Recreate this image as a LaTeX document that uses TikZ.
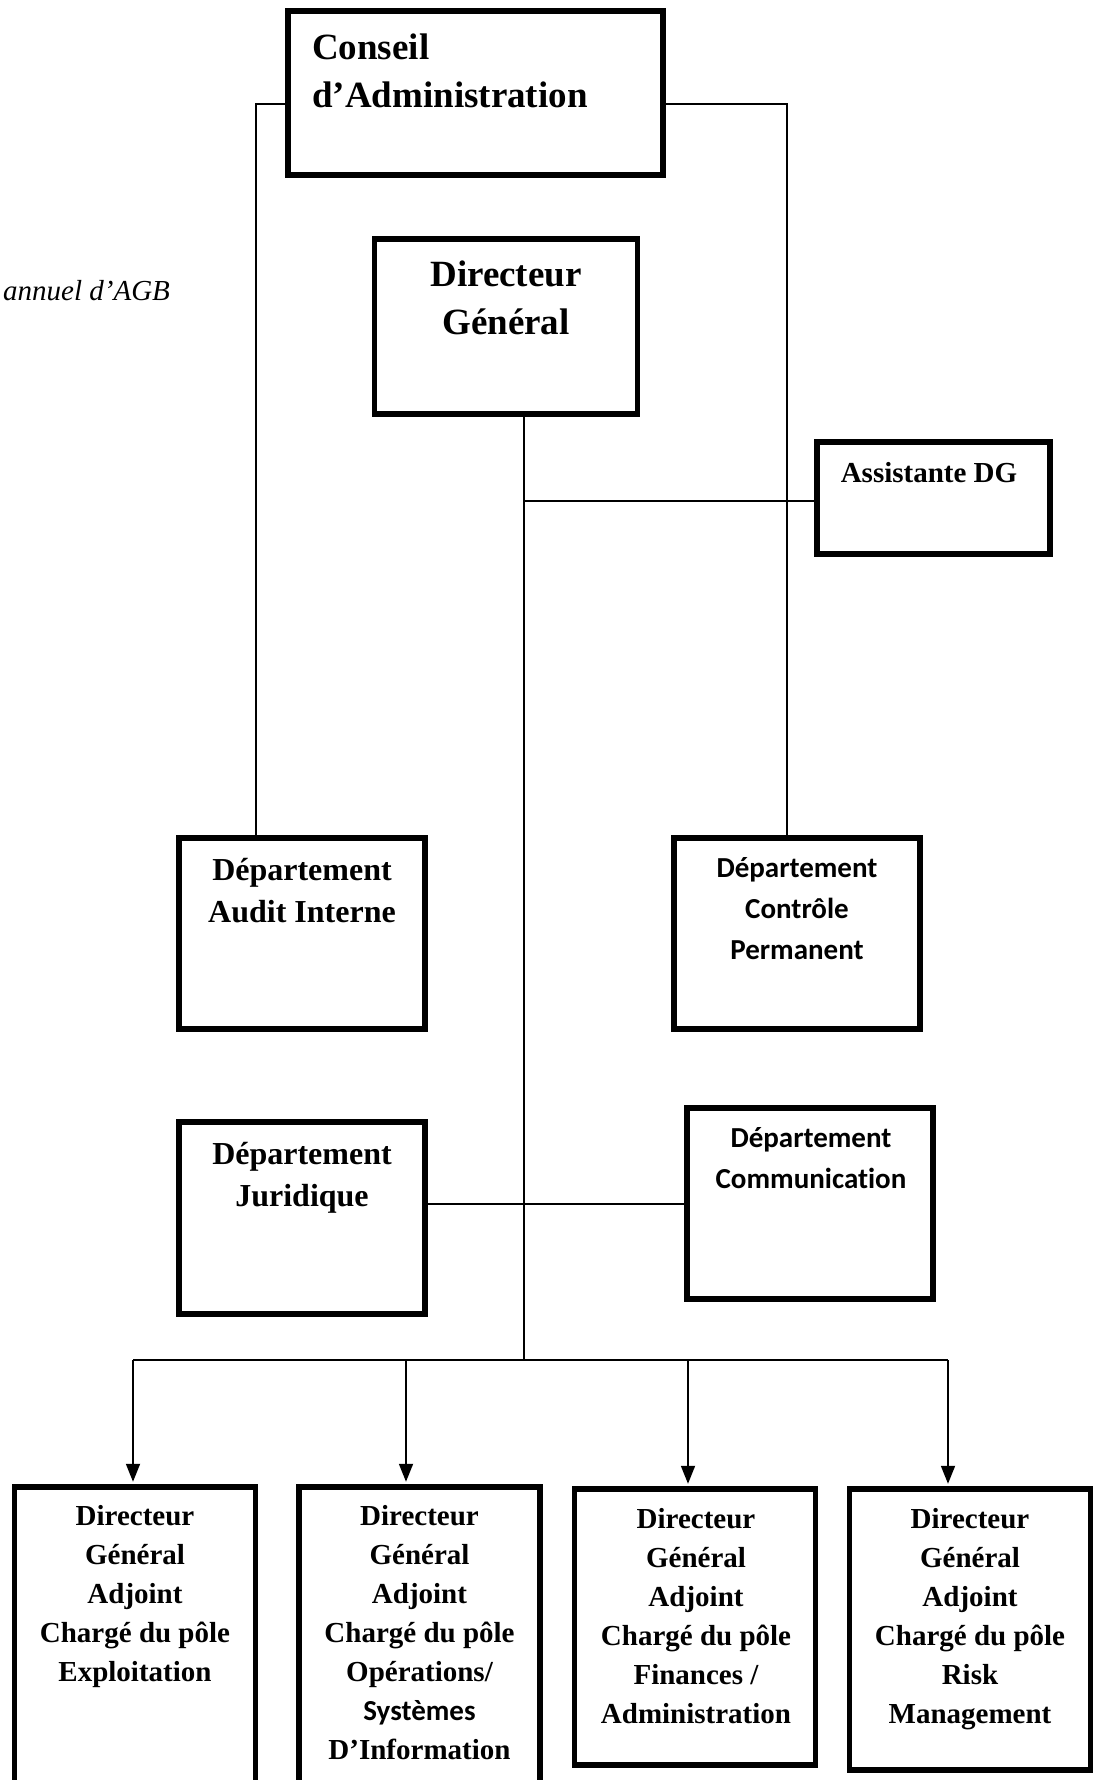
\documentclass[tikz,border=0pt]{standalone}
\usepackage{fontspec}
\setmainfont{Liberation Serif}
\newfontfamily\calibfont[Ligatures=CommonOff]{Carlito}
\usetikzlibrary{arrows.meta}
\begin{document}
\begin{tikzpicture}[x=1pt,y=-1pt,
  box/.style={draw, line width=5.5pt, rectangle, inner sep=0pt},
  txt/.style={anchor=north, inner sep=0pt, align=center},
  big/.style={font=\bfseries\fontsize{37}{48}\selectfont},
  mid/.style={font=\bfseries\fontsize{32}{42}\selectfont},
  sml/.style={font=\bfseries\fontsize{29}{39}\selectfont},
  cal/.style={font=\calibfont\bfseries\fontsize{29}{41}\selectfont},
  wire/.style={line width=1.5pt},
  wiretwo/.style={line width=2pt},
  arr/.style={line width=1.8pt, shorten >=2.5pt, -{Triangle[length=18pt,width=14pt]}}
]
\useasboundingbox (0,0) rectangle (1101,1780);
\fill[white] (0,0) rectangle (1101,1780);
\clip (0,0) rectangle (1101,1780);

% boxes
\node[box, minimum width=375pt, minimum height=164pt] (ca) at (475.5,93) {};
\node[box, minimum width=263pt, minimum height=175pt] (dg) at (506,326.5) {};
\node[box, minimum width=233pt, minimum height=112pt] (as) at (933.5,498) {};
\node[box, minimum width=246pt, minimum height=191pt] (au) at (302,933.5) {};
\node[box, minimum width=246pt, minimum height=191pt] (co) at (797,933.5) {};
\node[box, minimum width=246pt, minimum height=192pt] (ju) at (302,1218) {};
\node[box, minimum width=246pt, minimum height=191pt] (cm) at (810,1203.5) {};
\node[box, minimum width=241pt, minimum height=313pt] (b1) at (135,1643.5) {};
\node[box, minimum width=241pt, minimum height=313pt] (b2) at (419.5,1643.5) {};
\node[box, minimum width=241pt, minimum height=276pt] (b3) at (695,1627) {};
\node[box, minimum width=241pt, minimum height=281pt] (b4) at (970,1629.5) {};

% texts
\node[txt, big, anchor=north west, align=left] (cat) at (312,34) {Conseil\\d’Administration};
\node[txt, big] (dgt) at (506,261) {Directeur\\Général};
\node[sml, anchor=base, inner sep=0pt] (ast) at (929,482.7) {Assistante DG};
\node[txt, mid] (aut) at (302,858) {Département\\Audit Interne};
\node[txt, cal] (cot) at (797,857.4) {Département\\Contrôle\\Permanent};
\node[txt, mid] (jut) at (302,1142) {Département\\Juridique};
\node[txt, cal] (cmt) at (811,1127.7) {Département\\Communication};
\node[txt, sml] (b1t) at (135,1505.4) {Directeur\\Général\\Adjoint\\Chargé du pôle\\Exploitation};
\node[txt, sml] (b2t) at (419.5,1505.4) {Directeur\\Général\\Adjoint\\Chargé du pôle\\Opérations/\\{\calibfont\bfseries Systèmes}\\D’Information};
\node[txt, sml] (b3t) at (696,1507.7) {Directeur\\Général\\Adjoint\\Chargé du pôle\\Finances /\\Administration};
\node[txt, sml] (b4t) at (970,1507.7) {Directeur\\Général\\Adjoint\\Chargé du pôle\\Risk\\Management};
\node[anchor=base west, inner sep=0pt, font=\itshape\fontsize{29}{35}\selectfont] (note) at (3,300) {annuel d’AGB};

% connectors
\coordinate (cal) at (256,104);
\coordinate (car) at (787,104);
\draw[wire] (ca.west |- cal) -- (cal) -- (cal |- au.north);
\draw[wire] (ca.east |- car) -- (car) -- (car |- co.north);
\coordinate (bus) at (524,1360);
\coordinate (asl) at (524,501);
\draw[wire] (bus |- dg.south) -- (bus);
\draw[wiretwo] (asl) -- (asl -| as.west);
\draw[wiretwo] (ju.east |- cm.west) -- (cm.west);
\coordinate (t1) at (133,1360);
\coordinate (t2) at (406,1360);
\coordinate (t3) at (688,1360);
\coordinate (t4) at (948,1360);
\draw[wiretwo] (t1) -- (t4);
\draw[arr] (t1) -- (t1 |- b1.north);
\draw[arr] (t2) -- (t2 |- b2.north);
\draw[arr] (t3) -- (t3 |- b3.north);
\draw[arr] (t4) -- (t4 |- b4.north);
\end{tikzpicture}
\end{document}
